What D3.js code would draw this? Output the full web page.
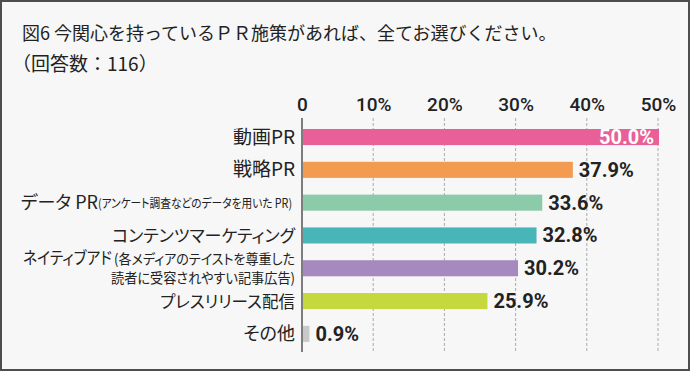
<!DOCTYPE html>
<html>
<head>
<meta charset="utf-8">
<script src="https://cdn.jsdelivr.net/npm/d3@7"></script>
<style>
  html, body { margin: 0; padding: 0; background: #f6f7f6; }
  svg { display: block; }
  text { font-family: "Noto Sans CJK JP", sans-serif; fill: #222; }
  .lbl { font-feature-settings: "palt"; }
  .num { font-family: Roboto, "Noto Sans", sans-serif; }
</style>
</head>
<body>
<div id="chart"></div>
<script>
let width = 690;
let height = 371;

// data
const categories = ["動画PR", "戦略PR", "データPR", "コンテンツマーケティング", "ネイティブアド", "プレスリリース配信", "その他"];
const values = [50.0, 37.9, 33.6, 32.8, 30.2, 25.9, 0.9];
const colors = ["#e95f97", "#f39b50", "#8ccbaa", "#48b6b8", "#a68abf", "#c5d83d", "#c9c9c9"];
const ticks = [0, 10, 20, 30, 40, 50];
const title = "図6 今関心を持っているＰＲ施策があれば、全てお選びください。";
const subtitle = "（回答数：116）";

let svg = d3.select("#chart")
            .append("svg")
            .attr("width", width)
            .attr("height", height)

svg.append("rect")
  .attr("x", 1).attr("y", 1)
  .attr("width", width - 2).attr("height", height - 2)
  .attr("fill", "#f6f7f6")
  .attr("stroke", "#4d4d4d")
  .attr("stroke-width", 2)

svg.append("text").attr("x", 22).attr("y", 40)
  .style("font-size", "18px").text(title)
svg.append("text").attr("x", 12).attr("y", 71)
  .style("font-size", "19px").text(subtitle)

let x = d3.scaleLinear().domain([0, 50]).range([302, 658])
let y = d3.scaleBand().domain(categories).range([120.8, 350.1])
          .paddingInner(0.51).paddingOuter(0.25)

// grid lines
svg.selectAll(".grid")
  .data(ticks.filter(d => d > 0))
  .enter()
  .append("line")
  .attr("x1", d => x(d)).attr("x2", d => x(d))
  .attr("y1", 118).attr("y2", 353)
  .attr("stroke", "#aaa")
  .attr("stroke-dasharray", "3,2")

// tick labels via axis
let axis = svg.append("g")
  .attr("transform", "translate(0,111)")
  .call(d3.axisTop(x).tickValues(ticks).tickSize(0).tickPadding(0)
          .tickFormat(d => d === 0 ? "0" : d + "%"))
axis.select(".domain").remove()
axis.selectAll("text")
  .attr("class", "num")
  .attr("dy", 0)
  .style("font-size", "19px")
  .style("font-weight", 500)
  .style("fill", "#222")

// bars
svg.selectAll(".bar")
  .data(values)
  .enter()
  .append("rect")
  .attr("x", x(0) + 1)
  .attr("y", (d, i) => y(categories[i]))
  .attr("width", d => x(d) - x(0))
  .attr("height", y.bandwidth())
  .attr("fill", (d, i) => colors[i])

// axis line
svg.append("line")
  .attr("x1", x(0)).attr("x2", x(0))
  .attr("y1", 118).attr("y2", 352)
  .attr("stroke", "#555").attr("stroke-width", 1.5)

// value labels
svg.selectAll(".val")
  .data(values)
  .enter()
  .append("text")
  .attr("class", "num")
  .attr("x", (d, i) => i === 0 ? x(d) - 4 : x(d) + 7)
  .attr("y", (d, i) => y(categories[i]) + y.bandwidth() / 2 + 7)
  .attr("text-anchor", (d, i) => i === 0 ? "end" : "start")
  .style("font-size", "20px")
  .style("font-weight", 700)
  .style("fill", (d, i) => i === 0 ? "#fff" : "#222")
  .text(d => d.toFixed(1) + "%")

// category labels
const lx = 295;
const cy = c => y(c) + y.bandwidth() / 2;
const labelSize = {"動画PR": 19, "戦略PR": 19, "コンテンツマーケティング": 17, "プレスリリース配信": 16.5, "その他": 18};
Object.keys(labelSize).forEach(c => {
  svg.append("text").attr("class", "lbl").attr("x", lx).attr("y", cy(c) + 6.5)
    .attr("text-anchor", "end").style("font-size", labelSize[c] + "px").text(c)
})

// データPR with small note
svg.append("text").attr("class", "lbl").attr("x", lx - 3).attr("y", cy("データPR") + 5)
  .attr("text-anchor", "end").style("font-size", "12.5px")
  .attr("textLength", 194).attr("lengthAdjust", "spacingAndGlyphs")
  .text("(アンケート調査などのデータを用いた PR)")
svg.append("text").attr("class", "lbl").attr("x", lx - 197).attr("y", cy("データPR") + 6.5)
  .attr("text-anchor", "end").style("font-size", "18px").text("データ PR")

// ネイティブアド two lines
let ny = cy("ネイティブアド");
svg.append("text").attr("class", "lbl").attr("x", 112).attr("y", ny - 4)
  .attr("text-anchor", "end").style("font-size", "17px")
  .attr("textLength", 89).attr("lengthAdjust", "spacingAndGlyphs")
  .text("ネイティブアド")
svg.append("text").attr("class", "lbl").attr("x", lx).attr("y", ny - 4)
  .attr("text-anchor", "end").style("font-size", "14px")
  .attr("textLength", 181).attr("lengthAdjust", "spacingAndGlyphs")
  .text("(各メディアのテイストを尊重した")
svg.append("text").attr("class", "lbl").attr("x", lx).attr("y", ny + 15)
  .attr("text-anchor", "end").style("font-size", "14px")
  .attr("textLength", 184).attr("lengthAdjust", "spacingAndGlyphs")
  .text("読者に受容されやすい記事広告)")
</script>
</body>
</html>
